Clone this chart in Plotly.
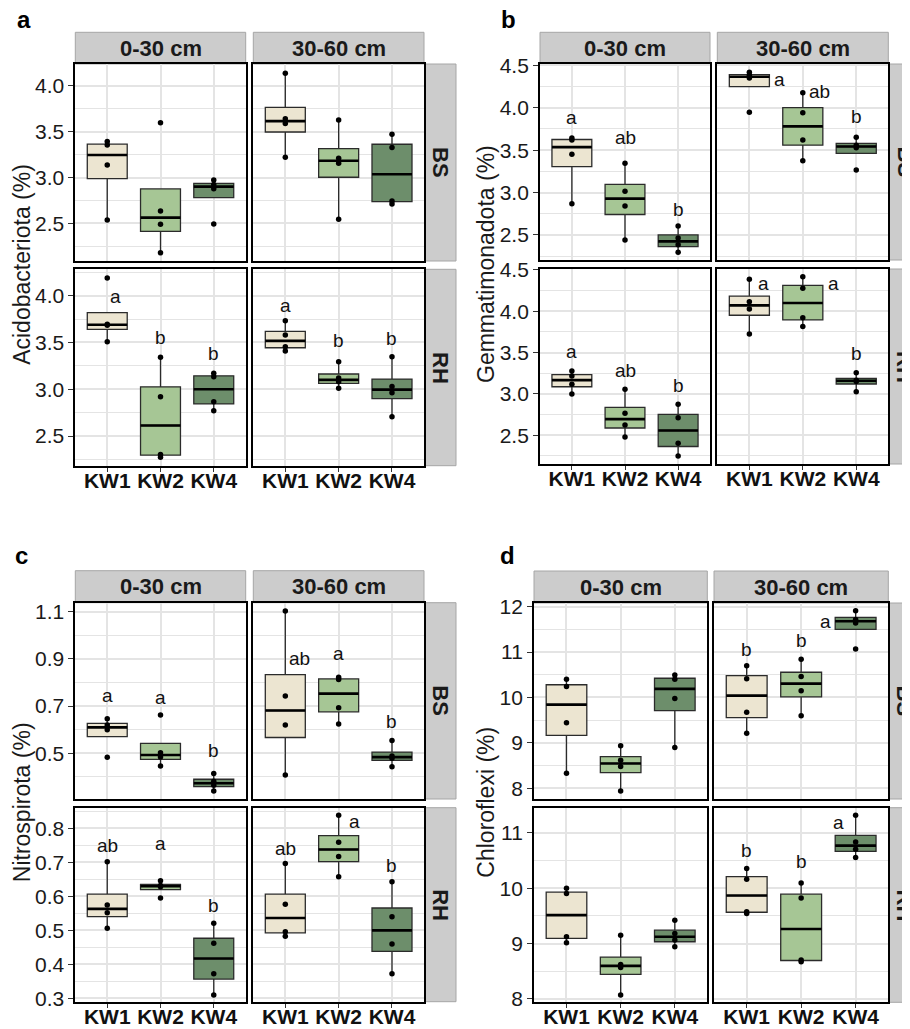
import numpy as np
import plotly.graph_objects as go

W, H = 910, 1029
PAGE_OFFSET = 8  # the page body margin shifts the figure by this many pixels

categories = ["KW1", "KW2", "KW4"]
depths = ["0-30 cm", "30-60 cm"]
sites = ["BS", "RH"]
taxa = ["Acidobacteriota (%)", "Gemmatimonadota (%)", "Nitrospirota (%)", "Chloroflexi (%)"]
panel_tags = ["a", "b", "c", "d"]

# ---------------- replicate values (4 per group: KW1, KW2, KW4) ----------------
acido_BS_0_30 = [[2.538, 3.138, 3.356, 3.393], [2.18, 2.49, 2.636, 3.60], [2.495, 2.878, 2.926, 2.974]]
acido_BS_30_60 = [[3.222, 3.590, 3.643, 4.138], [2.545, 3.157, 3.212, 3.629], [2.713, 2.746, 3.328, 3.473]]
acido_RH_0_30 = [[3.508, 3.684, 3.696, 4.19], [2.272, 2.304, 2.921, 3.341], [2.771, 2.867, 3.134, 3.170]]
acido_RH_30_60 = [[3.409, 3.455, 3.580, 3.733], [3.010, 3.081, 3.119, 3.295], [2.707, 2.963, 3.029, 3.348]]

gemma_BS_0_30 = [[2.869, 3.451, 3.620, 3.643], [2.441, 2.842, 3.015, 3.345], [2.296, 2.384, 2.465, 2.606]]
gemma_BS_30_60 = [[3.946, 4.350, 4.382, 4.42], [3.376, 3.620, 3.942, 4.178], [3.266, 3.529, 3.558, 3.651]]
gemma_RH_0_30 = [[3.0, 3.117, 3.218, 3.278], [2.480, 2.625, 2.766, 3.056], [2.25, 2.403, 2.714, 2.875]]
gemma_RH_30_60 = [[3.726, 4.028, 4.117, 4.387], [3.815, 3.923, 4.278, 4.419], [3.028, 3.152, 3.167, 3.258]]

nitro_BS_0_30 = [[0.483, 0.600, 0.620, 0.646], [0.446, 0.484, 0.502, 0.662], [0.340, 0.365, 0.382, 0.415]]
nitro_BS_30_60 = [[0.408, 0.620, 0.743, 1.103], [0.624, 0.693, 0.813, 0.822], [0.443, 0.479, 0.489, 0.554]]
nitro_RH_0_30 = [[0.506, 0.552, 0.5745, 0.702], [0.595, 0.628, 0.632, 0.646], [0.310, 0.372, 0.462, 0.521]]
nitro_RH_30_60 = [[0.483, 0.496, 0.5765, 0.697], [0.658, 0.717, 0.759, 0.839], [0.372, 0.460, 0.540, 0.643]]

chloro_BS_0_30 = [[8.33, 9.446, 10.24, 10.40], [7.94, 8.48, 8.616, 8.94], [8.90, 9.98, 10.40, 10.495]]
chloro_BS_30_60 = [[9.21, 9.673, 10.41, 10.70], [9.60, 10.15, 10.46, 10.84], [11.07, 11.64, 11.714, 11.91]]
chloro_RH_0_30 = [[9.016, 9.124, 9.906, 10.0], [8.072, 8.571, 8.625, 9.154], [8.944, 9.064, 9.184, 9.425]]
chloro_RH_30_60 = [[9.545, 9.575, 10.164, 10.357], [8.673, 8.703, 9.827, 10.098], [10.555, 10.705, 10.838, 11.319]]

# ---------------- significance letters (text, y value) ----------------
acido_RH_0_30_letters = ["a", "b", "b"]
acido_RH_0_30_letter_y = [3.99, 3.555, 3.384]
acido_RH_30_60_letters = ["a", "b", "b"]
acido_RH_30_60_letter_y = [3.90, 3.52, 3.545]

gemma_BS_0_30_letters = ["a", "ab", "b"]
gemma_BS_0_30_letter_y = [3.887, 3.647, 2.806]
gemma_BS_30_60_letters = ["a", "ab", "b"]
gemma_BS_30_60_letter_y = [4.335, 4.19, 3.90]
gemma_RH_0_30_letters = ["a", "ab", "b"]
gemma_RH_0_30_letter_y = [3.512, 3.282, 3.097]
gemma_RH_30_60_letters = ["a", "a", "b"]
gemma_RH_30_60_letter_y = [4.339, 4.339, 3.484]

nitro_BS_0_30_letters = ["a", "a", "b"]
nitro_BS_0_30_letter_y = [0.743, 0.736, 0.510]
nitro_BS_30_60_letters = ["ab", "a", "b"]
nitro_BS_30_60_letter_y = [0.902, 0.924, 0.634]
nitro_RH_0_30_letters = ["ab", "a", "b"]
nitro_RH_0_30_letter_y = [0.751, 0.756, 0.572]
nitro_RH_30_60_letters = ["ab", "a", "b"]
nitro_RH_30_60_letter_y = [0.741, 0.82, 0.692]

chloro_BS_30_60_letters = ["b", "b", "a"]
chloro_BS_30_60_letter_y = [11.046, 11.25, 11.67]
chloro_RH_30_60_letters = ["b", "b", "a"]
chloro_RH_30_60_letter_y = [10.687, 10.477, 11.198]

# ---------------- assemble ----------------
panel_data = [
    {("BS", 0): acido_BS_0_30, ("BS", 1): acido_BS_30_60, ("RH", 0): acido_RH_0_30, ("RH", 1): acido_RH_30_60},
    {("BS", 0): gemma_BS_0_30, ("BS", 1): gemma_BS_30_60, ("RH", 0): gemma_RH_0_30, ("RH", 1): gemma_RH_30_60},
    {("BS", 0): nitro_BS_0_30, ("BS", 1): nitro_BS_30_60, ("RH", 0): nitro_RH_0_30, ("RH", 1): nitro_RH_30_60},
    {("BS", 0): chloro_BS_0_30, ("BS", 1): chloro_BS_30_60, ("RH", 0): chloro_RH_0_30, ("RH", 1): chloro_RH_30_60},
]
panel_letters = [
    {("RH", 0): (acido_RH_0_30_letters, acido_RH_0_30_letter_y),
     ("RH", 1): (acido_RH_30_60_letters, acido_RH_30_60_letter_y)},
    {("BS", 0): (gemma_BS_0_30_letters, gemma_BS_0_30_letter_y),
     ("BS", 1): (gemma_BS_30_60_letters, gemma_BS_30_60_letter_y),
     ("RH", 0): (gemma_RH_0_30_letters, gemma_RH_0_30_letter_y),
     ("RH", 1): (gemma_RH_30_60_letters, gemma_RH_30_60_letter_y)},
    {("BS", 0): (nitro_BS_0_30_letters, nitro_BS_0_30_letter_y),
     ("BS", 1): (nitro_BS_30_60_letters, nitro_BS_30_60_letter_y),
     ("RH", 0): (nitro_RH_0_30_letters, nitro_RH_0_30_letter_y),
     ("RH", 1): (nitro_RH_30_60_letters, nitro_RH_30_60_letter_y)},
    {("BS", 1): (chloro_BS_30_60_letters, chloro_BS_30_60_letter_y),
     ("RH", 1): (chloro_RH_30_60_letters, chloro_RH_30_60_letter_y)},
]

# ---------------- layout / style (pixel geometry, in screen pixels) ----------------
# horizontal nudges of letters (category units)
letter_dx = {
    (0, "RH", 0): [0.146, 0, 0],
    (1, "BS", 1): [0.56, 0.32, 0],
    (1, "RH", 1): [0.26, 0.57, 0],
    (2, "BS", 1): [0.27, 0, 0],
    (2, "RH", 1): [0, 0.3, 0],
    (3, "BS", 1): [0, 0, -0.56],
    (3, "RH", 1): [0, 0, -0.32],
}
geom = [
    dict(cols=[(75.3, 245.7), (253.3, 424.0)], rows=[(64, 261), (269.3, 465.7)], strip_top=32.3,
         rstrip=(425, 456), title_x=22, tag=(24, 20)),
    dict(cols=[(540, 710), (717.3, 888.3)], rows=[(64, 260), (269, 464)], strip_top=32.3,
         rstrip=(889, 920), title_x=486, tag=(508, 20)),
    dict(cols=[(75.3, 245.7), (253.3, 424.0)], rows=[(602.7, 799), (807.7, 1001.7)], strip_top=570.7,
         rstrip=(425, 456), title_x=22, tag=(21, 555)),
    dict(cols=[(534, 707.3), (714, 888.3)], rows=[(603, 799), (807.7, 1002.3)], strip_top=571,
         rstrip=(889, 920), title_x=486, tag=(507, 555)),
]
yranges = [
    {"BS": (2.09, 4.24), "RH": (2.183, 4.282)},
    {"BS": (2.205, 4.516), "RH": (2.153, 4.512)},
    {"BS": (0.3066, 1.138), "RH": (0.290, 0.861)},
    {"BS": (7.765, 12.08), "RH": (7.94, 11.457)},
]
yticks = [
    {"BS": (0, 0.5, 0.25, ".1f"), "RH": (0, 0.5, 0.25, ".1f")},
    {"BS": (0, 0.5, 0.25, ".1f"), "RH": (0, 0.5, 0.25, ".1f")},
    {"BS": (0.1, 0.2, 0.1, ".1f"), "RH": (0, 0.1, 0.05, ".1f")},
    {"BS": (0, 1, 0.5, "d"), "RH": (0, 1, 0.5, "d")},
]

fills = ["#ECE5D1", "#A6C695", "#6D8E6B"]
FONT = "Liberation Sans, Arial, sans-serif"
GRID = "#E4E4E4"
BOXW = 0.75


def px(x):
    return (x - PAGE_OFFSET) / W


def py(y):
    return 1 - (y - PAGE_OFFSET) / H


def box_stats(vals):
    v = np.asarray(vals, dtype=float)
    q1, med, q3 = np.percentile(v, [25, 50, 75])
    iqr = q3 - q1
    lo = v[v >= q1 - 1.5 * iqr].min()
    hi = v[v <= q3 + 1.5 * iqr].max()
    return q1, med, q3, lo, hi


fig = go.Figure()
layout = dict(
    width=W, height=H, autosize=False,
    margin=dict(l=0, r=0, t=0, b=0, pad=0, autoexpand=False),
    paper_bgcolor="white", plot_bgcolor="white",
    showlegend=False, boxmode="overlay",
    font=dict(family=FONT, color="#1a1a1a"),
)
annotations = []
shapes = []

for p in range(4):
    g = geom[p]
    for r, site in enumerate(sites):
        for c in range(2):
            idx = p * 4 + r * 2 + c + 1
            xr = "x" if idx == 1 else f"x{idx}"
            yr = "y" if idx == 1 else f"y{idx}"
            data = panel_data[p][(site, c)]

            med_x, med_y, pt_x, pt_y = [], [], [], []
            for k, vals in enumerate(data):
                q1, med, q3, lo, hi = box_stats(vals)
                pos = k + 1
                fig.add_trace(go.Box(
                    x=[pos], q1=[q1], median=[med], q3=[q3], lowerfence=[lo], upperfence=[hi],
                    width=BOXW, fillcolor=fills[k], line=dict(color="#2b2b2b", width=1.3),
                    whiskerwidth=0, boxpoints=False, xaxis=xr, yaxis=yr, hoverinfo="skip",
                    showlegend=False,
                ))
                med_x += [pos - BOXW / 2, pos + BOXW / 2, None]
                med_y += [med, med, None]
                pt_x += [pos] * len(vals)
                pt_y += list(vals)
            fig.add_trace(go.Scatter(x=med_x, y=med_y, mode="lines", line=dict(color="black", width=2.6),
                                     xaxis=xr, yaxis=yr, hoverinfo="skip", showlegend=False))
            fig.add_trace(go.Scatter(x=pt_x, y=pt_y, mode="markers",
                                     marker=dict(color="black", size=5.5),
                                     xaxis=xr, yaxis=yr, hoverinfo="skip", showlegend=False))

            # letters
            if (site, c) in panel_letters[p]:
                txts, ys = panel_letters[p][(site, c)]
                dxs = letter_dx.get((p, site, c), [0, 0, 0])
                for k, (t, yv) in enumerate(zip(txts, ys)):
                    annotations.append(dict(
                        x=k + 1 + dxs[k], y=yv, xref=xr, yref=yr, text=t, showarrow=False,
                        xanchor="center", yanchor="middle",
                        font=dict(size=19, color="#111111", family=FONT)))

            x0, x1 = g["cols"][c]
            y0, y1 = g["rows"][r]
            t0, dt, mdt, fmt = yticks[p][site]
            bottom = (r == 1)
            left = (c == 0)
            layout["xaxis" if idx == 1 else f"xaxis{idx}"] = dict(
                domain=[px(x0), px(x1)], anchor=yr, range=[0.4, 3.6],
                tickmode="array", tickvals=[1, 2, 3], ticktext=[f"<b>{s}</b>" for s in categories],
                showticklabels=bottom, ticks="outside" if bottom else "", ticklen=4,
                tickcolor="#333333", tickwidth=1, ticklabelstandoff=-9,
                tickfont=dict(size=21, color="#111111", family=FONT),
                showgrid=True, gridcolor=GRID, gridwidth=1.5, zeroline=False,
                showline=True, mirror=True, linecolor="black", linewidth=1.8, fixedrange=True,
            )
            layout["yaxis" if idx == 1 else f"yaxis{idx}"] = dict(
                domain=[py(y1), py(y0)], anchor=xr, range=list(yranges[p][site]),
                tickmode="linear", tick0=t0, dtick=dt, tickformat=fmt,
                showticklabels=left, ticks="outside" if left else "", ticklen=5,
                tickcolor="#333333", tickwidth=1,
                tickfont=dict(size=21, color="#1a1a1a", family=FONT),
                showgrid=True, gridcolor=GRID, gridwidth=1.5, zeroline=False,
                minor=dict(tick0=0, dtick=mdt, showgrid=True, gridcolor=GRID, gridwidth=1.2, ticks=""),
                showline=True, mirror=True, linecolor="black", linewidth=1.8, fixedrange=True,
            )

    # top strips
    for c, depth in enumerate(depths):
        x0, x1 = g["cols"][c]
        shapes.append(dict(type="rect", xref="paper", yref="paper",
                           x0=px(x0), x1=px(x1), y0=py(g["rows"][0][0]), y1=py(g["strip_top"]),
                           fillcolor="#CCCCCC", line=dict(color="#A6A6A6", width=1), layer="below"))
        annotations.append(dict(x=px((x0 + x1) / 2), y=py((g["strip_top"] + g["rows"][0][0]) / 2),
                                xref="paper", yref="paper", text=f"<b>{depth}</b>", showarrow=False,
                                xanchor="center", yanchor="middle",
                                font=dict(size=22, color="#1a1a1a", family=FONT)))
    # right strips
    rx0, rx1 = g["rstrip"]
    for r, site in enumerate(sites):
        y0, y1 = g["rows"][r]
        shapes.append(dict(type="rect", xref="paper", yref="paper",
                           x0=px(rx0), x1=px(rx1), y0=py(y1), y1=py(y0),
                           fillcolor="#CCCCCC", line=dict(color="#A6A6A6", width=1), layer="below"))
        annotations.append(dict(x=px((rx0 + rx1) / 2), y=py((y0 + y1) / 2), xref="paper", yref="paper",
                                text=f"<b>{site}</b>", showarrow=False, textangle=90,
                                xanchor="center", yanchor="middle",
                                font=dict(size=22, color="#1a1a1a", family=FONT)))
    # y title
    annotations.append(dict(x=px(g["title_x"]), y=py((g["rows"][0][0] + g["rows"][1][1]) / 2),
                            xref="paper", yref="paper", text=taxa[p], showarrow=False, textangle=-90,
                            xanchor="center", yanchor="middle",
                            font=dict(size=23, color="#1a1a1a", family=FONT)))
    # panel tag
    annotations.append(dict(x=px(g["tag"][0]), y=py(g["tag"][1]), xref="paper", yref="paper",
                            text=f"<b>{panel_tags[p]}</b>", showarrow=False,
                            xanchor="center", yanchor="middle",
                            font=dict(size=24, color="black", family=FONT)))

layout["annotations"] = annotations
layout["shapes"] = shapes
fig.update_layout(**layout)
fig.write_html("out.html")
